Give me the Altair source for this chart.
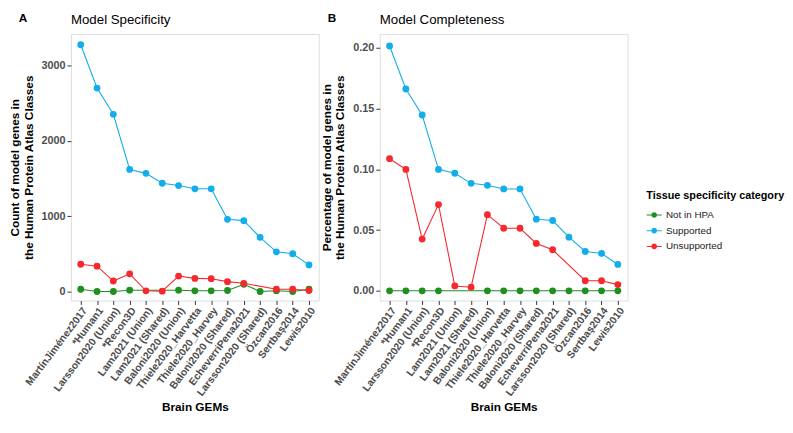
import altair as alt
import pandas as pd

models = ["MartínJiménez2017", "*Human1", "Larsson2020 (Union)", "*Recon3D",
          "Lam2021 (Union)", "Lam2021 (Shared)", "Baloni2020 (Union)",
          "Thiele2020_Harvetta", "Thiele2020_Harvey", "Baloni2020 (Shared)",
          "EcheverriPena2021", "Larsson2020 (Shared)", "Özcan2016",
          "Sertbaş2014", "Lewis2010"]
categories = ["Not in HPA", "Supported", "Unsupported"]

count_supported = [3277, 2702, 2353, 1621, 1569, 1438, 1407, 1364, 1364, 959, 941, 719, 527, 501, 353]
count_unsupported = [362, 336, 139, 235, 9, 4, 205, 174, 170, 131, 109, None, 30, 30, 13]
count_not_hpa = [30, 0, 0, 17, None, None, 17, 9, 9, 13, 96, 0, 9, 0, 30]

pct_supported = [0.2016, 0.1662, 0.1448, 0.1000, 0.0968, 0.0885, 0.0869, 0.0839, 0.0839,
                 0.0590, 0.0579, 0.0442, 0.0324, 0.0308, 0.0217]
pct_unsupported = [0.1088, 0.1000, 0.0426, 0.0710, 0.0040, 0.0030, 0.0627, 0.0515, 0.0515,
                   0.0390, 0.0338, None, 0.0083, 0.0083, 0.0051]
pct_not_hpa = [0.0, 0.0, 0.0, 0.0, None, None, 0.0, 0.0, 0.0, 0.0, 0.0, 0.0, 0.0, 0.0, 0.0]

colors = ["#1F8F1F", "#12AEEA", "#F5292E"]


def make_df(series):
    rows = []
    for cat, vals in zip(categories, series):
        for m, v in zip(models, vals):
            if v is not None:
                rows.append({"model": m, "category": cat, "value": v})
    return pd.DataFrame(rows)


df_a = make_df([count_not_hpa, count_supported, count_unsupported])
df_b = make_df([pct_not_hpa, pct_supported, pct_unsupported])

legend_symbol = ("M-1,-0.07H1V0.07H-1Z"
                 "M0.38,0A0.38,0.38 0 1,1 -0.38,0A0.38,0.38 0 1,1 0.38,0Z")

color_enc = alt.Color(
    "category:N",
    scale=alt.Scale(domain=categories, range=colors),
    legend=alt.Legend(title="Tissue specificity category", orient="none",
                      legendX=585, legendY=159, symbolType=legend_symbol,
                      symbolSize=230, symbolStrokeWidth=0,
                      titleFontSize=11, titleFontWeight="bold",
                      titleColor="black", labelFontSize=10,
                      labelColor="#222222", titlePadding=6, rowPadding=3),
)


def panel(df, title, letter, ytitle, yscale, yfmt, yvals):
    x = alt.X("model:N", sort=models, title="Brain GEMs",
              scale=alt.Scale(padding=0.6),
              axis=alt.Axis(labelAngle=-53, labelAlign="right", labelBaseline="top",
                            labelFontSize=10.5, labelFontWeight="bold",
                            labelColor="#4D4D4D", titleFontSize=12,
                            titleFontWeight="bold", titleColor="black",
                            tickColor="#333333", tickSize=4, domain=False,
                            labelPadding=1, titlePadding=4))
    y = alt.Y("value:Q", title=ytitle, scale=yscale,
              axis=alt.Axis(format=yfmt, values=yvals, labelFontSize=11,
                            labelFontWeight="bold", labelColor="#4D4D4D",
                            titleFontSize=12, titleFontWeight="bold",
                            titleColor="black", tickColor="#333333",
                            tickSize=4, domain=False, grid=False,
                            titlePadding=6))
    base = alt.Chart(df).encode(x=x, y=y, color=color_enc)
    lines = base.mark_line(strokeWidth=1.1)
    points = base.mark_point(filled=True, size=48, opacity=1)
    lab = alt.Chart(pd.DataFrame({"t": [letter]})).mark_text(
        fontSize=12, fontWeight="bold", align="left", baseline="middle",
        color="black").encode(text="t:N", x=alt.value(-53), y=alt.value(-16))
    ttl = alt.Chart(pd.DataFrame({"t": [title]})).mark_text(
        fontSize=13.5, fontWeight="normal", align="left", baseline="middle",
        color="black").encode(text="t:N", x=alt.value(0), y=alt.value(-14))
    return alt.layer(lines, points, lab, ttl).properties(width=252, height=271)


chart_a = panel(df_a, "Model Specificity", "A",
                ["Count of model genes in", "the Human Protein Atlas Classes"],
                alt.Scale(domain=[-120, 3420], nice=False, zero=False), "d",
                [0, 1000, 2000, 3000])
chart_b = panel(df_b, "Model Completeness", "B",
                ["Percentage of model genes in", "the Human Protein Atlas Classes"],
                alt.Scale(domain=[-0.008, 0.2115], nice=False, zero=False), ".2f",
                [0, 0.05, 0.1, 0.15, 0.2])

chart = alt.hconcat(chart_a, chart_b, spacing=0).configure_view(
    stroke="#8C8C8C", strokeWidth=1
).configure(font="Liberation Sans").properties(background="white", padding=0)

chart.save("out.html", embed_options={"renderer": "svg", "actions": False})
